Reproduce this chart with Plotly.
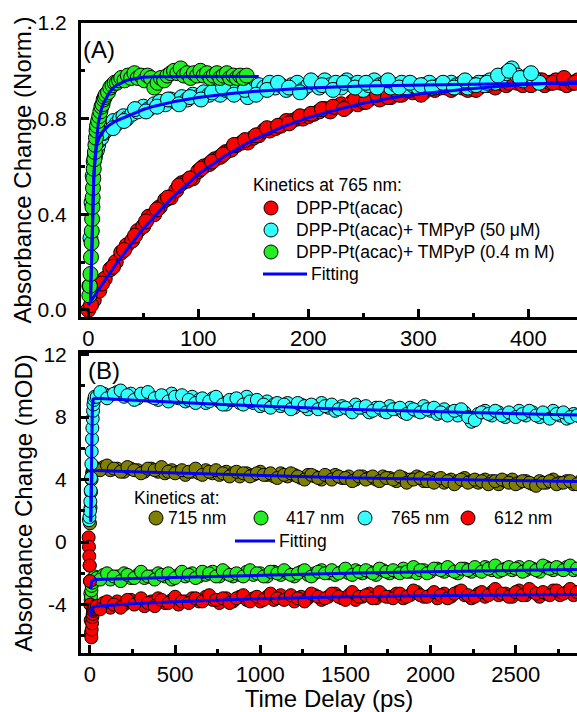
import plotly.graph_objects as go

# ---------------- Panel A data (Kinetics at 765 nm, normalized) ----------------
a_red_t = [0, 5, 10, 15, 20, 25, 30, 35, 40, 45, 50, 55, 60, 65, 70, 75, 80, 85, 90, 95,
           100, 105, 110, 115, 120, 125, 130, 135, 140, 145, 150, 155, 160, 165, 170, 175,
           180, 185, 190, 195, 200, 205, 210, 215, 220, 225, 230, 235, 240, 245, 250, 255,
           260, 265, 270, 275, 280, 285, 290, 295, 300, 305, 310, 315, 320, 325, 330, 335,
           340, 345, 350, 355, 360, 365, 370, 375, 380, 385, 390, 395, 400, 405, 410, 415,
           420, 425, 430, 435, 440, 445, 450]
a_red_v = [0.00, 0.04, 0.08, 0.13, 0.17, 0.20, 0.24, 0.27, 0.29, 0.33, 0.35, 0.39, 0.40, 0.43,
           0.46, 0.47, 0.50, 0.53, 0.54, 0.55, 0.58, 0.60, 0.61, 0.63, 0.64, 0.66, 0.67, 0.69,
           0.70, 0.70, 0.72, 0.73, 0.75, 0.75, 0.76, 0.77, 0.79, 0.79, 0.80, 0.80, 0.81, 0.82,
           0.83, 0.84, 0.83, 0.85, 0.86, 0.85, 0.87, 0.86, 0.87, 0.88, 0.89, 0.88, 0.90, 0.89,
           0.91, 0.90, 0.92, 0.91, 0.92, 0.91, 0.93, 0.92, 0.93, 0.93, 0.92, 0.94, 0.93, 0.92,
           0.94, 0.93, 0.95, 0.94, 0.93, 0.95, 0.94, 0.96, 0.95, 0.94, 0.96, 0.95, 0.96, 0.94,
           0.95, 0.96, 0.95, 0.94, 0.95, 0.96, 0.95]
a_red_t2 = [2.5, 12.5, 22.5, 32.5, 42.5, 52.5, 62.5, 72.5, 82.5, 92.5, 102.5, 112.5, 122.5,
            132.5, 142.5, 152.5, 162.5, 172.5, 182.5, 192.5, 202.5, 212.5, 222.5, 232.5,
            242.5, 252.5, 262.5, 272.5, 282.5, 292.5, 302.5, 312.5, 322.5, 332.5, 342.5,
            352.5, 362.5, 372.5, 382.5, 392.5, 402.5, 412.5, 422.5, 432.5, 442.5]
a_red_v2 = [0.02, 0.11, 0.18, 0.25, 0.31, 0.37, 0.42, 0.47, 0.52, 0.55, 0.59, 0.62, 0.65, 0.69,
            0.71, 0.73, 0.76, 0.77, 0.78, 0.81, 0.82, 0.84, 0.85, 0.84, 0.88, 0.87, 0.90, 0.89,
            0.90, 0.92, 0.90, 0.93, 0.94, 0.93, 0.95, 0.92, 0.94, 0.96, 0.95, 0.97, 0.94, 0.96,
            0.95, 0.97, 0.95]

a_cyan_t = [1, 2, 3, 4, 5, 6, 7, 8, 9, 10, 12, 14, 16, 18, 20, 23, 26, 29, 32, 35, 40, 45, 50,
            55, 60, 65, 70, 75, 80, 85, 90, 95, 100, 105, 110, 115, 120, 125, 130, 135, 140,
            145, 150, 155, 160, 165, 170, 175, 180, 185, 190, 195, 200, 205, 210, 215, 220,
            225, 230, 235, 240, 245, 250, 255, 260, 265, 270, 275, 280, 285, 290, 295, 300,
            305, 310, 315, 320, 325, 330, 335, 340, 345, 350, 355, 360, 365, 370, 375, 380,
            385, 390, 395, 400, 405, 410]
a_cyan_v = [0.10, 0.30, 0.45, 0.56, 0.62, 0.64, 0.66, 0.67, 0.69, 0.71, 0.72, 0.74, 0.75, 0.77,
            0.77, 0.79, 0.78, 0.80, 0.81, 0.80, 0.82, 0.83, 0.85, 0.84, 0.86, 0.87, 0.86, 0.88,
            0.87, 0.89, 0.88, 0.90, 0.89, 0.91, 0.90, 0.92, 0.90, 0.92, 0.91, 0.93, 0.91, 0.89,
            0.92, 0.94, 0.93, 0.95, 0.93, 0.94, 0.92, 0.94, 0.95, 0.92, 0.94, 0.95, 0.93, 0.96,
            0.94, 0.95, 0.93, 0.96, 0.94, 0.95, 0.92, 0.94, 0.96, 0.94, 0.95, 0.93, 0.94, 0.95,
            0.93, 0.94, 0.93, 0.94, 0.95, 0.93, 0.94, 0.94, 0.95, 0.94, 0.95, 0.93, 0.94, 0.95,
            0.94, 0.96, 0.95, 0.97, 0.99, 1.01, 0.98, 0.96, 0.98, 0.97, 0.95]
a_cyan_t2 = [12.5, 22.5, 32.5, 42.5, 52.5, 62.5, 72.5, 82.5, 92.5, 102.5, 112.5, 122.5, 132.5,
             142.5, 152.5, 162.5, 172.5, 182.5, 192.5, 202.5, 212.5, 222.5, 232.5, 242.5,
             252.5, 262.5, 272.5, 282.5, 292.5, 302.5, 312.5, 322.5, 332.5, 342.5, 352.5,
             362.5, 372.5, 382.5, 392.5, 402.5]
a_cyan_v2 = [0.74, 0.76, 0.79, 0.84, 0.83, 0.85, 0.88, 0.86, 0.89, 0.88, 0.91, 0.93, 0.90, 0.92,
             0.90, 0.92, 0.95, 0.93, 0.91, 0.96, 0.94, 0.92, 0.95, 0.93, 0.95, 0.93, 0.96, 0.93,
             0.95, 0.94, 0.93, 0.95, 0.93, 0.96, 0.94, 0.95, 0.98, 1.00, 0.97, 0.99]

a_green_t = [1, 1.5, 2, 2.5, 3, 3.2, 3.5, 3.8, 4, 4.3, 4.6, 5, 5.5, 6, 6.5, 7, 7.5, 8, 9, 10,
             11, 12, 13, 14, 15, 16, 18, 20, 22, 24, 26, 28, 30, 33, 36, 39, 42, 45, 48, 51,
             54, 57, 60, 63, 66, 69, 72, 75, 78, 81, 84, 87, 90, 93, 96, 99, 102, 105, 108,
             111, 114, 117, 120, 123, 126, 129, 132, 135, 138, 141, 144]
a_green_v = [0.06, 0.10, 0.15, 0.22, 0.28, 0.33, 0.38, 0.43, 0.47, 0.51, 0.55, 0.59, 0.63, 0.66,
             0.69, 0.72, 0.75, 0.77, 0.79, 0.81, 0.83, 0.85, 0.86, 0.88, 0.89, 0.90, 0.91, 0.93,
             0.94, 0.95, 0.95, 0.96, 0.97, 0.96, 0.98, 0.97, 0.99, 0.97, 0.98, 0.96, 0.98, 0.97,
             0.93, 0.95, 0.97, 0.96, 0.98, 0.99, 1.00, 0.99, 1.01, 0.98, 0.99, 0.97, 0.99, 0.98,
             1.00, 0.98, 0.99, 0.97, 0.98, 0.99, 0.97, 0.98, 0.99, 0.97, 0.98, 0.97, 0.98, 0.97,
             0.98]

a_fit_red_t = [0, 10, 25, 50, 75, 100, 125, 150, 175, 200, 225, 250, 275, 300, 325, 350, 375,
               400, 425, 450]
a_fit_red_v = [0.02, 0.09, 0.19, 0.34, 0.463, 0.567, 0.646, 0.711, 0.762, 0.804, 0.836, 0.864,
               0.886, 0.903, 0.915, 0.926, 0.935, 0.944, 0.950, 0.955]
a_fit_cyan_t = [2, 2.5, 3, 3.5, 4, 4.5, 5, 5.5, 6, 7, 8, 10, 13, 16, 19, 25, 30, 40, 50, 60, 80,
                100, 130, 160, 200, 250, 300, 350, 400, 450]
a_fit_cyan_v = [0.03, 0.14, 0.25, 0.34, 0.42, 0.49, 0.55, 0.59, 0.62, 0.665, 0.695, 0.72, 0.745,
                0.76, 0.772, 0.79, 0.80, 0.82, 0.838, 0.852, 0.873, 0.888, 0.905, 0.917, 0.928,
                0.936, 0.941, 0.944, 0.946, 0.947]
a_fit_green_t = [2, 2.5, 3, 3.5, 4, 4.5, 5, 6, 7, 8, 9, 10, 12, 14, 16, 18, 20, 23, 26, 30, 35,
                 40, 45, 50, 60, 80, 100, 130, 155]
a_fit_green_v = [0.03, 0.14, 0.25, 0.34, 0.42, 0.49, 0.55, 0.63, 0.69, 0.74, 0.775, 0.80, 0.84,
                 0.865, 0.885, 0.90, 0.915, 0.93, 0.94, 0.95, 0.96, 0.965, 0.97, 0.973, 0.975,
                 0.976, 0.976, 0.976, 0.976]

# ---------------- Panel B data (mOD) ----------------
b_t = [40, 80, 120, 160, 200, 240, 280, 320, 360, 400, 440, 480, 520, 560, 600, 640, 680, 720,
       760, 800, 840, 880, 920, 960, 1000, 1040, 1080, 1120, 1160, 1200, 1240, 1280, 1320,
       1360, 1400, 1440, 1480, 1520, 1560, 1600, 1640, 1680, 1720, 1760, 1800, 1840, 1880,
       1920, 1960, 2000, 2040, 2080, 2120, 2160, 2200, 2240, 2280, 2320, 2360, 2400, 2440,
       2480, 2520, 2560, 2600, 2640, 2680, 2720, 2760, 2800, 2840, 2880]
b_t2 = [60, 100, 140, 180, 220, 260, 300, 340, 380, 420, 460, 500, 540, 580, 620, 660, 700,
        740, 780, 820, 860, 900, 940, 980, 1020, 1060, 1100, 1140, 1180, 1220, 1260, 1300,
        1340, 1380, 1420, 1460, 1500, 1540, 1580, 1620, 1660, 1700, 1740, 1780, 1820, 1860,
        1900, 1940, 1980, 2020, 2060, 2100, 2140, 2180, 2220, 2260, 2300, 2340, 2380, 2420,
        2460, 2500, 2540, 2580, 2620, 2660, 2700, 2740, 2780, 2820, 2860]

b_olive_early_t = [0, 3, 6, 9, 12, 16, 20, 25, 30]
b_olive_early_v = [1.2, 2.2, 3.2, 4.0, 4.4, 4.6, 4.7, 4.8, 4.7]
b_olive_v = [4.7, 4.8, 4.6, 4.7, 4.5, 4.7, 4.6, 4.5, 4.7, 4.5, 4.4, 4.6, 4.5, 4.3, 4.5, 4.4,
             4.6, 4.4, 4.3, 4.5, 4.4, 4.2, 4.4, 4.3, 4.5, 4.3, 4.2, 4.4, 4.2, 4.3, 4.1, 4.3,
             4.2, 4.0, 4.2, 4.3, 4.1, 4.2, 4.0, 4.2, 4.1, 4.0, 4.2, 4.1, 3.9, 4.1, 4.0, 4.2,
             3.9, 4.1, 4.0, 3.8, 4.0, 3.9, 4.1, 3.9, 3.8, 4.0, 3.9, 3.7, 3.9, 4.0, 3.8, 3.9,
             3.7, 3.9, 3.8, 4.0, 3.8, 3.9, 3.7, 3.9]
b_olive_v2 = [4.6, 4.9, 4.7, 4.5, 4.8, 4.6, 4.4, 4.7, 4.6, 4.8, 4.5, 4.4, 4.6, 4.5, 4.7, 4.3,
              4.5, 4.6, 4.4, 4.2, 4.5, 4.4, 4.2, 4.4, 4.3, 4.4, 4.1, 4.3, 4.4, 4.2, 4.0, 4.3,
              4.1, 4.3, 4.0, 4.2, 4.1, 3.9, 4.2, 4.0, 4.2, 3.9, 4.1, 4.0, 4.2, 3.8, 4.0, 4.1,
              3.9, 3.8, 4.1, 3.9, 3.7, 4.0, 3.8, 4.0, 3.9, 3.7, 3.9, 4.0, 3.8, 3.7, 3.9, 3.8,
              3.6, 3.8, 3.9, 3.7, 3.8, 3.9, 3.7]

b_green_early_t = [-2, 0, 2, 4, 6, 8, 10, 14, 18, 22, 28]
b_green_early_v = [-1.5, -2.5, -3.3, -3.7, -3.5, -3.1, -2.8, -2.6, -2.4, -2.3, -2.2]
b_green_v = [-2.3, -2.1, -2.4, -2.2, -2.0, -2.3, -2.1, -2.3, -2.2, -2.0, -2.2, -2.4, -2.1, -2.2,
             -2.0, -2.2, -2.1, -1.9, -2.2, -2.0, -2.2, -2.1, -1.9, -2.1, -2.0, -2.2, -1.9, -2.1,
             -2.0, -2.2, -1.9, -2.1, -2.0, -1.8, -2.0, -2.1, -1.9, -2.0, -1.8, -2.0, -1.9, -2.1,
             -1.8, -2.0, -1.9, -1.7, -1.9, -2.0, -1.8, -1.9, -1.7, -1.9, -1.8, -2.0, -1.7, -1.9,
             -1.8, -1.6, -1.8, -1.9, -1.7, -1.8, -1.6, -1.8, -1.7, -1.9, -1.6, -1.8, -1.7, -1.6,
             -1.8, -1.7]
b_green_v2 = [-2.4, -2.0, -2.2, -2.5, -2.1, -2.3, -1.9, -2.2, -2.4, -2.1, -2.0, -2.3, -1.9,
              -2.1, -2.3, -1.9, -2.0, -2.2, -1.8, -2.1, -2.0, -2.2, -1.8, -2.0, -2.2, -1.9,
              -2.0, -1.8, -2.1, -2.0, -1.8, -2.2, -1.9, -2.0, -1.8, -2.0, -1.7, -2.1, -1.9,
              -1.8, -2.0, -1.7, -1.9, -1.8, -2.0, -1.9, -1.6, -1.8, -2.0, -1.7, -1.8, -1.6,
              -1.9, -1.7, -1.8, -1.6, -1.9, -1.7, -1.5, -1.8, -1.6, -1.7, -1.9, -1.6, -1.8,
              -1.5, -1.7, -1.6, -1.8, -1.5, -1.7]

b_cyan_early_t = [-6, -3, 0, 2, 4, 6, 8, 10, 12, 14, 16, 18, 20, 24, 28]
b_cyan_early_v = [1.4, 1.6, 2.0, 2.6, 3.3, 4.1, 5.0, 5.8, 6.6, 7.3, 7.9, 8.4, 8.8, 9.1, 9.3]
b_cyan_v = [9.3, 9.5, 9.4, 9.6, 9.3, 9.5, 9.2, 9.4, 9.3, 9.1, 9.3, 9.5, 9.2, 9.0, 9.3, 9.1,
            8.9, 9.2, 9.0, 8.8, 9.1, 8.9, 9.3, 8.9, 8.7, 9.0, 8.8, 8.7, 8.9, 8.6, 8.8, 8.5,
            8.7, 8.9, 8.6, 8.4, 8.7, 8.5, 8.8, 8.6, 8.3, 8.6, 8.4, 8.7, 8.5, 8.3, 8.6, 8.4,
            8.7, 8.4, 8.2, 8.5, 8.3, 8.1, 8.3, 7.7, 8.2, 8.4, 8.1, 8.3, 8.0, 8.2, 8.4, 8.1,
            8.3, 8.0, 8.2, 8.4, 8.1, 7.9, 8.2, 8.0]
b_cyan_v2 = [9.6, 9.2, 9.5, 9.7, 9.4, 9.1, 9.5, 9.6, 9.2, 9.4, 9.0, 9.3, 9.4, 9.1, 8.9, 9.2,
             9.0, 9.3, 8.8, 9.1, 9.2, 8.8, 9.0, 9.1, 8.8, 8.6, 8.9, 8.8, 8.5, 8.9, 8.7, 8.8,
             8.5, 8.7, 8.8, 8.5, 8.6, 8.3, 8.6, 8.7, 8.4, 8.6, 8.3, 8.5, 8.6, 8.2, 8.5, 8.3,
             8.5, 8.6, 8.3, 8.1, 8.4, 8.5, 8.0, 7.8, 8.3, 8.2, 8.4, 8.1, 8.3, 8.0, 8.2, 8.4,
             8.1, 8.3, 7.9, 8.2, 8.3, 8.0, 8.1]

b_red_early_t = [-8, -6, -4, -2, 0, 2, 4, 6, 8, 10, 12, 14, 16, 18, 20, 25, 30]
b_red_early_v = [0.3, -0.3, -0.9, -1.5, -2.5, -4.0, -5.0, -5.8, -6.1, -5.6, -5.2, -4.8, -4.6,
                 -4.4, -4.3, -4.2, -4.1]
b_red_v = [-4.1, -3.9, -4.2, -3.8, -4.0, -3.7, -3.9, -4.1, -3.8, -3.6, -3.9, -3.7, -4.0, -3.8,
           -3.6, -3.8, -3.5, -3.7, -3.9, -3.6, -3.8, -3.5, -3.7, -3.6, -3.8, -3.5, -3.7, -3.4,
           -3.6, -3.8, -3.5, -3.6, -3.4, -3.7, -3.5, -3.3, -3.6, -3.4, -3.7, -3.5, -3.3, -3.6,
           -3.4, -3.5, -3.3, -3.6, -3.4, -3.2, -3.5, -3.4, -3.6, -3.3, -3.5, -3.2, -3.4, -3.6,
           -3.3, -3.5, -3.2, -3.4, -3.3, -3.5, -3.1, -3.4, -3.2, -3.5, -3.3, -3.1, -3.4, -3.2,
           -3.4, -3.3]
b_red_v2 = [-4.3, -3.8, -4.0, -4.2, -3.7, -4.0, -3.6, -3.9, -4.1, -3.7, -3.9, -3.5, -3.8, -3.9,
            -3.6, -3.8, -3.4, -3.7, -3.6, -3.9, -3.6, -3.4, -3.8, -3.5, -3.7, -3.3, -3.6, -3.7,
            -3.4, -3.6, -3.8, -3.3, -3.5, -3.6, -3.3, -3.5, -3.7, -3.2, -3.5, -3.4, -3.6, -3.2,
            -3.5, -3.6, -3.3, -3.5, -3.1, -3.4, -3.5, -3.2, -3.4, -3.6, -3.3, -3.1, -3.4, -3.5,
            -3.2, -3.4, -3.0, -3.3, -3.5, -3.2, -3.4, -3.0, -3.3, -3.2, -3.4, -3.1, -3.3, -3.0,
            -3.2]

b_fit_cyan_t = [4, 6, 8, 10, 12, 14, 16, 20, 30, 250, 500, 750, 1000, 1500, 2000, 2500, 2900]
b_fit_cyan_v = [1.3, 3.5, 5.5, 7.0, 8.0, 8.6, 8.9, 9.15, 9.2, 9.1, 8.95, 8.82, 8.7, 8.5, 8.35,
                8.22, 8.12]
b_fit_olive_t = [4, 6, 8, 10, 12, 16, 20, 30, 250, 500, 1000, 1500, 2000, 2500, 2900]
b_fit_olive_v = [1.3, 2.8, 3.9, 4.4, 4.55, 4.6, 4.6, 4.58, 4.5, 4.42, 4.27, 4.12, 4.02, 3.93,
                 3.87]
b_fit_green_t = [4, 6, 8, 10, 15, 20, 30, 250, 500, 1000, 1500, 2000, 2500, 2900]
b_fit_green_v = [-3.0, -2.75, -2.6, -2.5, -2.45, -2.42, -2.4, -2.33, -2.26, -2.12, -2.0, -1.9,
                 -1.82, -1.75]
b_fit_red_t = [4, 6, 8, 10, 15, 20, 30, 40, 250, 500, 1000, 1500, 2000, 2500, 2900]
b_fit_red_v = [-4.8, -4.55, -4.4, -4.3, -4.2, -4.15, -4.12, -4.1, -3.95, -3.82, -3.62, -3.5,
               -3.43, -3.38, -3.35]

# tick labels
a_xticks = [0, 100, 200, 300, 400]
a_xminor = [50, 150, 250, 350]
a_yticks = [0.0, 0.4, 0.8, 1.2]
a_yticklabels = ["0.0", "0.4", "0.8", "1.2"]
a_yminor = [0.2, 0.6, 1.0]
b_xticks = [0, 500, 1000, 1500, 2000, 2500]
b_xminor = [250, 750, 1250, 1750, 2250, 2750]
b_yticks = [-4, 0, 4, 8, 12]
b_yticklabels = ["-4", "0", "4", "8", "12"]
b_yminor = [-6, -2, 2, 6, 10]

# legend texts
a_legend_title = "Kinetics at 765 nm:"
a_names = ["DPP-Pt(acac)", "DPP-Pt(acac)+ TMPyP (50 \u03bcM)", "DPP-Pt(acac)+ TMPyP (0.4 m M)"]
b_legend_title = "Kinetics at:"
b_names = ["715 nm", "417 nm", "765 nm", "612 nm"]
fit_name = "Fitting"

# ---------------- styling ----------------
FONT = "Arial, 'Liberation Sans', sans-serif"
RED = "#FF0000"
CYAN = "#33FFFF"
GREEN = "#22EE22"
OLIVE = "#808000"
BLUE = "#0000FF"

W, H = 577, 712
ML, MR, MT, MB = 81, 0, 23, 59
PW = W - ML - MR
PH = H - MT - MB


def px_x(p):
    return (p - ML) / PW


def px_y(q):
    return (H - MB - q) / PH


fig = go.Figure()


def add_markers(t, v, color, name, xa, ya, size):
    fig.add_trace(go.Scatter(x=t, y=v, mode="markers", name=name, showlegend=False,
                             xaxis=xa, yaxis=ya,
                             marker=dict(size=size, color=color,
                                         line=dict(color="black", width=1))))


def add_fit(t, v, xa, ya):
    fig.add_trace(go.Scatter(x=t, y=v, mode="lines", name=fit_name, showlegend=False,
                             xaxis=xa, yaxis=ya,
                             line=dict(color=BLUE, width=3)))


# Panel A
add_markers(a_red_t, a_red_v, RED, a_names[0], "x", "y", 15)
add_markers(a_red_t2, a_red_v2, RED, a_names[0], "x", "y", 15)
add_markers(a_cyan_t, a_cyan_v, CYAN, a_names[1], "x", "y", 15)
add_markers(a_cyan_t2, a_cyan_v2, CYAN, a_names[1], "x", "y", 15)
add_markers(a_green_t, a_green_v, GREEN, a_names[2], "x", "y", 15)
add_fit(a_fit_red_t, a_fit_red_v, "x", "y")
add_fit(a_fit_cyan_t, a_fit_cyan_v, "x", "y")
add_fit(a_fit_green_t, a_fit_green_v, "x", "y")

# Panel B
add_markers(b_olive_early_t + b_t, b_olive_early_v + b_olive_v, OLIVE, b_names[0], "x2", "y2", 13)
add_markers(b_t2, b_olive_v2, OLIVE, b_names[0], "x2", "y2", 13)
add_markers(b_green_early_t + b_t, b_green_early_v + b_green_v, GREEN, b_names[1], "x2", "y2", 13)
add_markers(b_t2, b_green_v2, GREEN, b_names[1], "x2", "y2", 13)
add_markers(b_cyan_early_t + b_t, b_cyan_early_v + b_cyan_v, CYAN, b_names[2], "x2", "y2", 13)
add_markers(b_t2, b_cyan_v2, CYAN, b_names[2], "x2", "y2", 13)
add_markers(b_red_early_t + b_t, b_red_early_v + b_red_v, RED, b_names[3], "x2", "y2", 13)
add_markers(b_t2, b_red_v2, RED, b_names[3], "x2", "y2", 13)
add_fit(b_fit_cyan_t, b_fit_cyan_v, "x2", "y2")
add_fit(b_fit_olive_t, b_fit_olive_v, "x2", "y2")
add_fit(b_fit_green_t, b_fit_green_v, "x2", "y2")
add_fit(b_fit_red_t, b_fit_red_v, "x2", "y2")

axis_common = dict(showgrid=False, zeroline=False, showline=True, linecolor="black",
                   linewidth=3, ticks="inside", ticklen=8, tickwidth=3, tickcolor="black",
                   color="black")


def minor(vals):
    return dict(tickvals=vals, ticks="inside", ticklen=4, tickwidth=3, tickcolor="black",
                showgrid=False)


top_dom = [px_y(317), 1.0]
bot_dom = [0.0, px_y(353)]

fig.update_layout(
    width=W, height=H,
    margin=dict(l=ML, r=MR, t=MT, b=MB, pad=0),
    paper_bgcolor="white", plot_bgcolor="white",
    font=dict(family=FONT, color="black"),
    showlegend=False,
    xaxis=dict(axis_common, domain=[0, 1], anchor="y", range=[-6.6, 444.3], mirror=True,
               tickvals=a_xticks, minor=minor(a_xminor), tickfont=dict(size=22)),
    yaxis=dict(axis_common, domain=top_dom, anchor="x", range=[-0.03, 1.2], mirror=False,
               tickvals=a_yticks, ticktext=a_yticklabels, minor=minor(a_yminor),
               tickfont=dict(size=21), ticklabelstandoff=7,
               title=dict(text="Absorbance Change (Norm.)", font=dict(size=24), standoff=0)),
    xaxis2=dict(axis_common, domain=[0, 1], anchor="y2", range=[-52.8, 2860], mirror=True,
                tickvals=b_xticks, minor=minor(b_xminor), tickfont=dict(size=22),
                title=dict(text="Time Delay (ps)", font=dict(size=24), standoff=2)),
    yaxis2=dict(axis_common, domain=bot_dom, anchor="x2", range=[-7.1, 12.1], mirror=False,
                tickvals=b_yticks, ticktext=b_yticklabels, minor=minor(b_yminor),
                tickfont=dict(size=21), ticklabelstandoff=7,
                title=dict(text="Absorbance Change (mOD)", font=dict(size=24), standoff=5)),
)

annotations = []
shapes = []


def txt(text, p, q, size=17.5, anchor="left"):
    annotations.append(dict(text=text, x=px_x(p), y=px_y(q), xref="paper", yref="paper",
                            xanchor=anchor, yanchor="middle", showarrow=False,
                            font=dict(size=size, family=FONT, color="black")))


def dot(p, q, color, r=7):
    shapes.append(dict(type="circle", xref="paper", yref="paper", xsizemode="pixel",
                       ysizemode="pixel", xanchor=px_x(p), yanchor=px_y(q),
                       x0=-r, x1=r, y0=-r, y1=r, fillcolor=color,
                       line=dict(color="black", width=1), layer="above"))


def seg(p0, p1, q):
    shapes.append(dict(type="line", xref="paper", yref="paper", x0=px_x(p0), x1=px_x(p1),
                       y0=px_y(q), y1=px_y(q), line=dict(color=BLUE, width=3), layer="above"))


# panel labels
txt("(A)", 81, 50, size=24)
txt("(B)", 86, 370, size=24)

# legend A
txt(a_legend_title, 251, 185)
for q, c, n in zip([208, 230, 252], [RED, CYAN, GREEN], a_names):
    dot(271, q, c)
    txt(n, 294, q)
seg(263, 307, 274)
txt(fit_name, 309, 274)

# legend B
txt(b_legend_title, 132, 498)
for p, tp, c, n in zip([156, 261, 365, 468], [166, 284, 389, 492], [OLIVE, GREEN, CYAN, RED], b_names):
    dot(p, 518, c)
    txt(n, tp, 518)
seg(235, 275, 541)
txt(fit_name, 277, 541)

fig.update_layout(annotations=annotations, shapes=shapes)

fig.write_html("out.html")
